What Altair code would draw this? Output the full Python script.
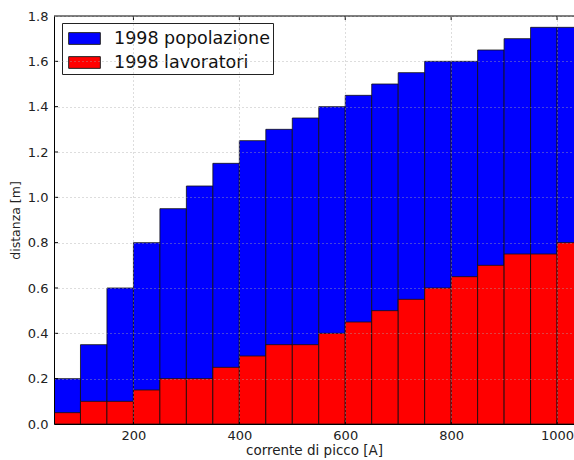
import altair as alt
import pandas as pd

x_start = [50, 100, 150, 200, 250, 300, 350, 400, 450, 500,
           550, 600, 650, 700, 750, 800, 850, 900, 950, 1000]
bin_width = 50
popolazione = [0.20, 0.35, 0.60, 0.80, 0.95, 1.05, 1.15, 1.25, 1.30, 1.35,
               1.40, 1.45, 1.50, 1.55, 1.60, 1.60, 1.65, 1.70, 1.75, 1.75]
lavoratori = [0.05, 0.10, 0.10, 0.15, 0.20, 0.20, 0.25, 0.30, 0.35, 0.35,
              0.40, 0.45, 0.50, 0.55, 0.60, 0.65, 0.70, 0.75, 0.75, 0.80]
series_names = ["1998 popolazione", "1998 lavoratori"]
series_colors = ["#0000ff", "#ff0000"]
x_ticks = [200, 400, 600, 800, 1000]
y_ticks = [0.0, 0.2, 0.4, 0.6, 0.8, 1.0, 1.2, 1.4, 1.6, 1.8]

rows = []
for k, (name, vals) in enumerate(zip(series_names, [popolazione, lavoratori])):
    for xs, v in zip(x_start, vals):
        rows.append({"x": xs, "x2": xs + bin_width, "y": v, "y0": 0.0,
                     "serie": name, "ord": k})
df = pd.DataFrame(rows)

FONT = "DejaVu Sans"
xscale = alt.Scale(domain=[50, 1032], nice=False, zero=False)
yscale = alt.Scale(domain=[0, 1.8], nice=False)

rect_path = "M-1.35,-0.5H1.35V0.5H-1.35Z"

bars = alt.Chart(df).mark_bar(stroke="#111111", strokeWidth=0.8, clip=True).encode(
    x=alt.X("x:Q", scale=xscale,
            axis=alt.Axis(values=x_ticks, format="d", title="corrente di picco [A]", grid=True,
                          gridColor="#aaaaaa", gridDash=[1, 3], gridWidth=1, gridOpacity=0.8,
                          domainColor="black", tickColor="black", tickSize=0,
                          labelFontSize=13, labelColor="#222", labelPadding=5,
                          titleFontSize=13.5, titleFontWeight="normal", titleColor="#222",
                          titlePadding=1, zindex=1, labelFlush=False)),
    x2="x2:Q",
    y=alt.Y("y:Q", scale=yscale,
            axis=alt.Axis(values=y_ticks, format=".1f", title="distanza [m]", grid=True,
                          gridColor="#aaaaaa", gridDash=[1, 3], gridWidth=1, gridOpacity=0.8,
                          domainColor="black", tickColor="black", tickSize=0,
                          labelFontSize=13, labelColor="#222", labelPadding=6,
                          titleFontSize=12.5, titleFontWeight="normal", titleColor="#222",
                          titlePadding=5, zindex=1)),
    y2="y0:Q",
    color=alt.Color("serie:N", scale=alt.Scale(domain=series_names, range=series_colors),
                    legend=alt.Legend(title=None, orient="none", legendX=8, legendY=7,
                                      symbolType=rect_path, symbolSize=550,
                                      symbolStrokeColor="#222", symbolStrokeWidth=1,
                                      symbolOpacity=1,
                                      labelFontSize=17.5, labelColor="#111", labelFont=FONT,
                                      labelLimit=300,
                                      rowPadding=3, padding=3,
                                      strokeColor="#222", fillColor="white",
                                      symbolOffset=7, labelOffset=17)),
    order=alt.Order("ord:Q"),
)

tick_df = pd.DataFrame({"v": y_ticks[1:-1]})
yticks_in = alt.Chart(tick_df).mark_rule(color="black").encode(
    y=alt.Y("v:Q", scale=yscale), x=alt.value(0), x2=alt.value(4))
xt_df = pd.DataFrame({"v": x_ticks})
xticks_bot = alt.Chart(xt_df).mark_rule(color="black").encode(
    x=alt.X("v:Q", scale=xscale), y=alt.value(408), y2=alt.value(404))
xticks_top = alt.Chart(xt_df).mark_rule(color="black").encode(
    x=alt.X("v:Q", scale=xscale), y=alt.value(0), y2=alt.value(4))
top_border = alt.Chart(pd.DataFrame({"a": [0]})).mark_rule(color="black", strokeWidth=1).encode(
    y=alt.value(0), x=alt.value(0), x2=alt.value(520))

chart = alt.layer(bars, yticks_in, xticks_bot, xticks_top, top_border).properties(
    width=520, height=408,
    padding={"left": 54, "top": 16, "right": 0, "bottom": 36},
    autosize=alt.AutoSizeParams(type="none"),
).configure_view(stroke=None).configure(font=FONT)

chart.save("out.html", embed_options={"renderer": "svg", "actions": False})
